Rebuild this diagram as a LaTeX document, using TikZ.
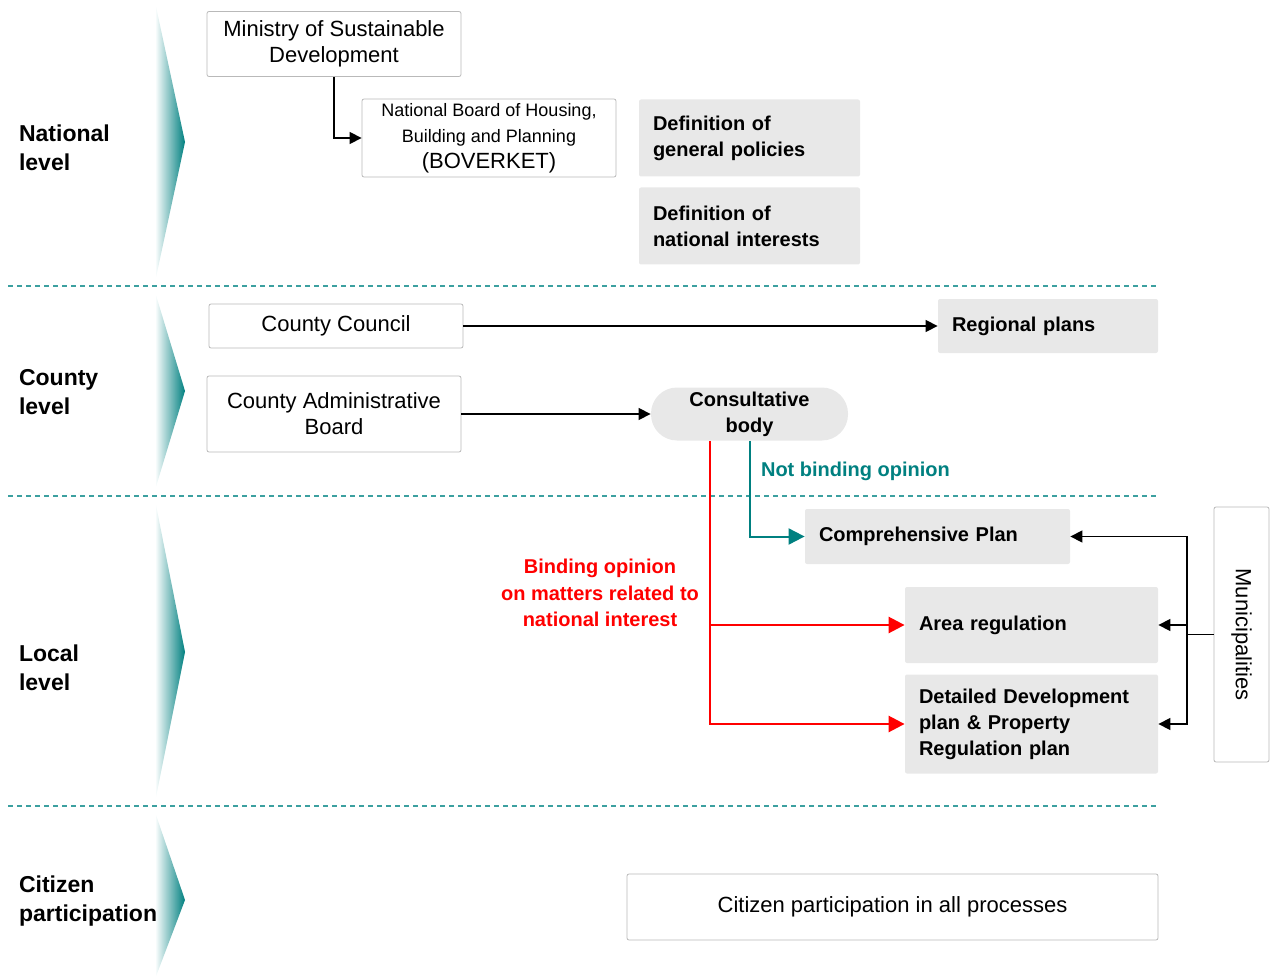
\documentclass[tikz,border=0pt]{standalone}
\usepackage{fontspec}
\setmainfont{Liberation Sans}
\usetikzlibrary{arrows.meta,positioning,calc}
\definecolor{tealc}{RGB}{0,128,128}
\definecolor{tealdash}{RGB}{60,160,160}
\definecolor{boxgray}{RGB}{232,232,232}
\definecolor{edgegray}{RGB}{185,185,185}
\definecolor{redc}{RGB}{255,0,0}
\tikzset{
  wbox/.style={draw=edgegray,rounded corners=1pt,fill=white,align=center,
               font=\fontsize{11}{13}\selectfont,inner sep=2pt},
  gbox/.style={fill=boxgray,rounded corners=1pt,align=left,inner xsep=7pt,
               font=\fontsize{10}{13}\selectfont\bfseries},
  lvl/.style={anchor=west,align=left,font=\fontsize{11.5}{14.5}\selectfont\bfseries},
  arr/.style={-{Triangle[length=6pt,width=6pt]},line width=0.7pt},
  plain/.style={line width=0.7pt},
  tarr/.style={-{Triangle[length=8pt,width=8pt]},line width=1pt,tealc},
  rarr/.style={-{Triangle[length=8pt,width=8pt]},line width=1.3pt,redc},
  sep/.style={tealdash,line width=0.6pt,dash pattern=on 2.5pt off 2pt},
}
\begin{document}
\begin{tikzpicture}[x=0.5pt,y=-0.5pt]
  \useasboundingbox (0,0) rectangle (1276,979);
  %% Level chevrons
  \foreach \top/\mid/\bot in {2/142/282, 292/391/490, 500/652/802, 812/900/979}
    \shade[left color=white,right color=tealc] (155,\top) -- (185,\mid) -- (155,\bot) -- cycle;
  %% Level separators
  \foreach \y in {286,496,806}
    \draw[sep] (8,\y) -- (1158,\y);
  %% Level labels
  \node[lvl] (natl) at (12,148) {National\\level};
  \node[lvl] (cntl) at (12,392) {County\\level};
  \node[lvl] (locl) at (12,668) {Local\\level};
  \node[lvl] (citl) at (12,901) {Citizen\\participation};

  %% National level
  \node[wbox,minimum width=127pt,minimum height=32.5pt] (mini) at (334,44)
    {Ministry of Sustainable\\Development};
  \node[wbox,minimum width=127pt,minimum height=39pt] (nb) at (489,138)
    {{\fontsize{9}{12}\selectfont National Board of Housing,}\\
     {\fontsize{9}{12}\selectfont Building and Planning}\\(BOVERKET)};
  \node[gbox,text width=96.5pt,minimum height=38.5pt] (defg) at (749.5,138)
    {Definition of\\general policies};
  \node[gbox,text width=96.5pt,minimum height=38.5pt] (defn) at (749.5,226)
    {Definition of\\national interests};

  %% County level
  \node[wbox,minimum width=127pt,minimum height=22pt] (cc) at (336,326) {County Council};
  \node[gbox,text width=96pt,minimum height=27pt] (rp) at (1048,326) {Regional plans};
  \node[wbox,minimum width=127pt,minimum height=38pt] (cab) at (334,414)
    {County Administrative\\Board};
  \node[fill=boxgray,rounded corners=13pt,minimum width=98.5pt,minimum height=26.5pt,
        align=center,inner sep=1pt,font=\fontsize{10}{13}\selectfont\bfseries] (cb) at (749.5,414)
    {Consultative\\body};

  %% Local level
  \node[gbox,text width=118.5pt,minimum height=27.5pt] (cp) at (937.5,536.5) {Comprehensive Plan};
  \node[gbox,text width=112.5pt,minimum height=38pt] (ar) at (1031.5,625) {Area regulation};
  \node[gbox,text width=112.5pt,minimum height=49.5pt] (dd) at (1031.5,724)
    {Detailed Development\\plan \& Property\\Regulation plan};
  \node[wbox,minimum width=27.5pt,minimum height=127.5pt] (mun) at (1241.5,634.5) {};
  \node[rotate=-90,font=\fontsize{11}{13}\selectfont] (munt) at (mun.center) {Municipalities};

  %% Citizen participation
  \node[wbox,minimum width=265.5pt,minimum height=33pt] (cit) at (892.5,907)
    {Citizen participation in all processes};

  %% Connectors
  \draw[arr] (mini.south) |- (nb.west);
  \draw[arr] (cc.east) -- (rp.west);
  \draw[arr] (cab.east) -- (cab.east -| cb.west);
  \draw[tarr] (cb.south) |- (cp.west);
  \node[anchor=west,text=tealc,font=\fontsize{10}{13}\selectfont\bfseries] (nbo) at (754,471)
    {Not binding opinion};
  \coordinate (rtop) at ([xshift=-19.75pt]cb.south);
  \draw[rarr] (rtop) |- (dd.west);
  \draw[rarr] (rtop |- ar.west) -- (ar.west);
  \node[text=redc,align=center,font=\fontsize{10}{13.2}\selectfont\bfseries] (bo) at (600,593)
    {Binding opinion\\on matters related to\\national interest};
  \coordinate (mj) at (1187,634.5);
  \draw[plain] (mun.west) -- (mj);
  \draw[arr] (mj) |- (cp.east);
  \draw[arr] (mj) |- (ar.east);
  \draw[arr] (mj) |- (dd.east);
\end{tikzpicture}
\end{document}
